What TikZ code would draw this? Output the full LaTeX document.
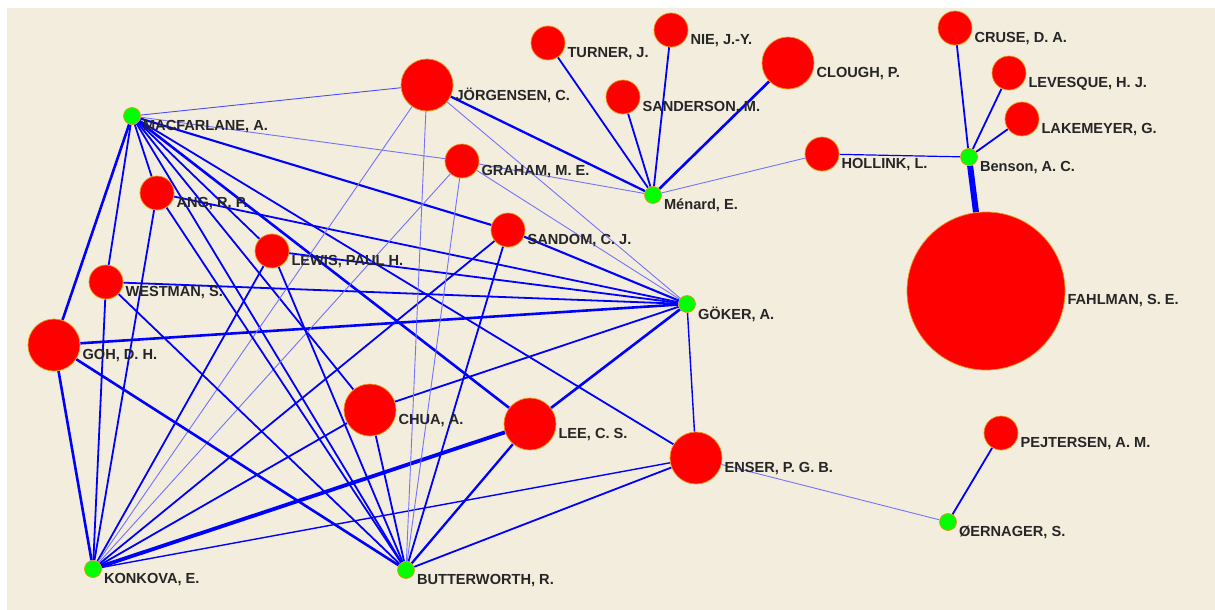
\documentclass[tikz,border=0pt]{standalone}
\usepackage{fontspec}
\setmainfont{Liberation Sans}
\pgfdeclarelayer{bg}
\pgfdeclarelayer{edges}
\pgfsetlayers{bg,edges,main}
\definecolor{paper}{RGB}{242,237,221}
\definecolor{ring}{RGB}{235,150,20}
\begin{document}
\begin{tikzpicture}[x=1pt, y=-1pt,
    cited/.style={circle, draw=ring, line width=0.7pt, fill=red, inner sep=0pt, minimum size=#1},
    cited/.default=34pt,
    citer/.style={circle, draw=ring, line width=0.7pt, fill=green, inner sep=0pt, minimum size=17pt},
    lbl/.style={inner sep=2pt, yshift=-10.5pt, text=black!85, font=\fontsize{14.6}{16}\selectfont\bfseries},
    lite/.style={blue!55, line width=0.9pt},
    med/.style={blue, line width=1.8pt},
    thk/.style={blue, line width=2.6pt}]
        \begin{pgfonlayer}{bg}
        \fill[white] (0,0) rectangle (1215,610);
        \fill[paper] (7,8) rectangle (1215,610);
        \end{pgfonlayer}

        \node[citer] (mac) at (132,116) [label={[lbl]0:{MACFARLANE, A.}}] {};
        \node[citer] (menard) at (653,195) [label={[lbl]0:{Ménard, E.}}] {};
        \node[citer] (benson) at (969,157) [label={[lbl]0:{Benson, A. C.}}] {};
        \node[citer] (goker) at (687,304) [label={[lbl]0:{GÖKER, A.}}] {};
        \node[citer] (konkova) at (93,569) [label={[lbl]0:{KONKOVA, E.}}] {};
        \node[citer] (butter) at (406,570) [label={[lbl]0:{BUTTERWORTH, R.}}] {};
        \node[citer] (oern) at (948,522) [label={[lbl]0:{ØERNAGER, S.}}] {};

        \node[cited=52pt] (jorg) at (427,85) [label={[lbl]0:{JÖRGENSEN, C.}}] {};
        \node[cited] (turner) at (548,43) [label={[lbl]0:{TURNER, J.}}] {};
        \node[cited] (nie) at (671,30) [label={[lbl]0:{NIE, J.-Y.}}] {};
        \node[cited] (sand) at (623,97) [label={[lbl]0:{SANDERSON, M.}}] {};
        \node[cited=52pt] (clough) at (788,63) [label={[lbl]0:{CLOUGH, P.}}] {};
        \node[cited] (cruse) at (955,28) [label={[lbl]0:{CRUSE, D. A.}}] {};
        \node[cited] (leves) at (1009,73) [label={[lbl]0:{LEVESQUE, H. J.}}] {};
        \node[cited] (lakem) at (1022,119) [label={[lbl]0:{LAKEMEYER, G.}}] {};
        \node[cited] (holl) at (822,154) [label={[lbl]0:{HOLLINK, L.}}] {};
        \node[cited] (graham) at (462,161) [label={[lbl]0:{GRAHAM, M. E.}}] {};
        \node[cited] (ang) at (157,193) [label={[lbl]0:{ANG, R. P.}}] {};
        \node[cited] (sandom) at (508,230) [label={[lbl]0:{SANDOM, C. J.}}] {};
        \node[cited] (lewis) at (272,251) [label={[lbl]0:{LEWIS, PAUL H.}}] {};
        \node[cited] (westman) at (106,282) [label={[lbl]0:{WESTMAN, S.}}] {};
        \node[cited=52pt] (goh) at (54,345) [label={[lbl]0:{GOH, D. H.}}] {};
        \node[cited=158pt] (fahl) at (986,291) [label={[lbl,yshift=1pt]0:{FAHLMAN, S. E.}}] {};
        \node[cited=52pt] (chua) at (370,410) [label={[lbl]0:{CHUA, A.}}] {};
        \node[cited=52pt] (lee) at (530,424) [label={[lbl]0:{LEE, C. S.}}] {};
        \node[cited=52pt] (enser) at (696,458) [label={[lbl]0:{ENSER, P. G. B.}}] {};
        \node[cited] (pejt) at (1001,433) [label={[lbl]0:{PEJTERSEN, A. M.}}] {};

        \begin{pgfonlayer}{edges}
        \draw[med] (menard) -- (turner);
        \draw[med] (menard) -- (nie);
        \draw[med] (menard) -- (sand);
        \draw[thk] (menard) -- (clough);
        \draw[lite] (menard) -- (holl);
        \draw[med, line width=2.3pt] (menard) -- (jorg);
        \draw[lite] (menard) -- (graham);
        \draw[med] (benson) -- (cruse);
        \draw[med] (benson) -- (leves);
        \draw[med] (benson) -- (lakem);
        \draw[med, line width=1.2pt] (benson) -- (holl);
        \draw[blue, line width=6pt] (benson) -- (fahl);
        \draw[lite] (oern) -- (enser);
        \draw[med] (oern) -- (pejt);

        \draw[lite, blue!70] (mac) -- (jorg);
        \draw[lite] (mac) -- (graham);
        \draw[med] (mac) -- (ang);
        \draw[med] (mac) -- (westman);
        \draw[thk] (mac) -- (goh);
        \draw[med, line width=2.1pt] (mac) -- (sandom);
        \draw[med] (mac) -- (lewis);
        \draw[med] (mac) -- (chua);
        \draw[med] (mac) -- (butter);
        \draw[thk] (mac) -- (lee);
        \draw[med] (mac) -- (enser);

        \draw[lite] (goker) -- (jorg);
        \draw[lite] (goker) -- (graham);
        \draw[med] (goker) -- (ang);
        \draw[med, line width=2.1pt] (goker) -- (sandom);
        \draw[med] (goker) -- (lewis);
        \draw[med] (goker) -- (westman);
        \draw[thk] (goker) -- (goh);
        \draw[med] (goker) -- (chua);
        \draw[thk] (goker) -- (lee);
        \draw[med, line width=1.4pt] (goker) -- (enser);

        \draw[thk] (konkova) -- (goh);
        \draw[med] (konkova) -- (westman);
        \draw[med] (konkova) -- (ang);
        \draw[med] (konkova) -- (lewis);
        \draw[lite] (konkova) -- (jorg);
        \draw[lite] (konkova) -- (graham);
        \draw[med] (konkova) -- (sandom);
        \draw[med] (konkova) -- (chua);
        \draw[blue, line width=3.8pt] (konkova) -- (lee);
        \draw[med, line width=1.4pt] (konkova) -- (enser);

        \draw[thk] (butter) -- (goh);
        \draw[med] (butter) -- (westman);
        \draw[med] (butter) -- (ang);
        \draw[med] (butter) -- (lewis);
        \draw[med] (butter) -- (chua);
        \draw[lite] (butter) -- (jorg);
        \draw[lite] (butter) -- (graham);
        \draw[med] (butter) -- (sandom);
        \draw[med, line width=2.3pt] (butter) -- (lee);
        \draw[med] (butter) -- (enser);
        \end{pgfonlayer}
      \end{tikzpicture}
\end{document}
